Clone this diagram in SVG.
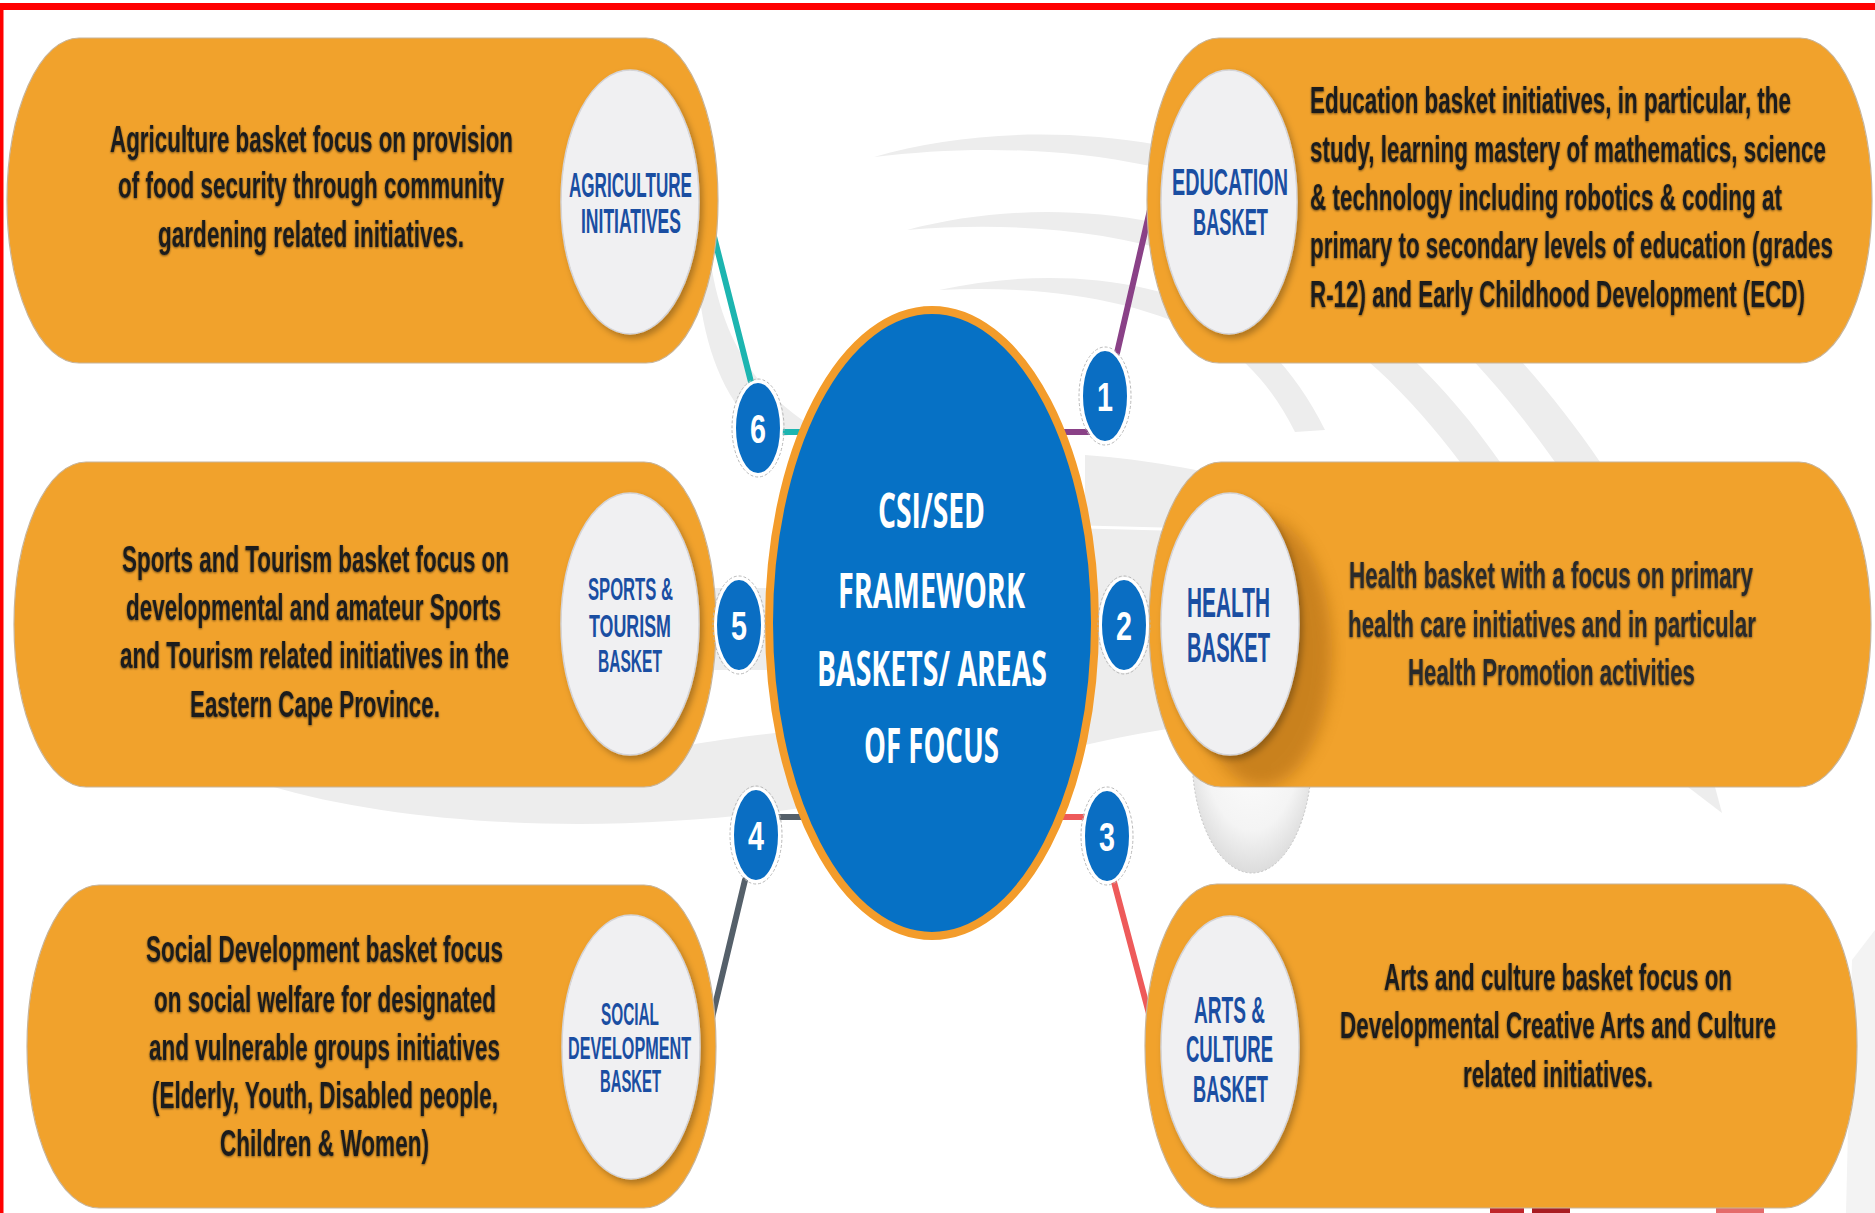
<svg xmlns="http://www.w3.org/2000/svg" width="1875" height="1213" viewBox="0 0 1875 1213">
<defs>
<style>
.pill{fill:#F1A22C;stroke:#C7B49A;stroke-width:1.2;}
.disc{fill:#F0F0F2;stroke:#D4D4D8;stroke-width:1.5;}
.body{font-family:"Liberation Sans",Arial,sans-serif;font-weight:bold;font-size:37px;fill:#1E1E1E;}
.lbl{font-family:"Liberation Sans",Arial,sans-serif;font-weight:bold;fill:#1A4EA2;}
.ctr{font-family:"Open Sans","Liberation Sans",sans-serif;font-weight:700;font-size:49px;fill:#FFFFFF;}
.num{font-family:"Liberation Sans",Arial,sans-serif;font-weight:bold;font-size:41px;fill:#FFFFFF;}
.nc{fill:#0A6EC3;stroke:#FFFFFF;stroke-width:3;}
.nco{fill:none;stroke:#B8B8B8;stroke-width:1;stroke-dasharray:3 2;}
.sw{fill:#EDEDED;}
.cn{fill:none;stroke-width:6;stroke-linecap:round;}
</style>
<filter id="discShadow" x="-20%" y="-20%" width="140%" height="140%">
<feDropShadow dx="3" dy="4" stdDeviation="3" flood-color="#000" flood-opacity="0.28"/>
</filter>
<filter id="txtShadow" x="-5%" y="-20%" width="110%" height="140%">
<feDropShadow dx="0" dy="1" stdDeviation="1.3" flood-color="#000" flood-opacity="0.55"/>
</filter>
<filter id="blur8"><feGaussianBlur stdDeviation="8"/></filter>
<radialGradient id="refl" cx="50%" cy="40%" r="60%">
<stop offset="0" stop-color="#FFFFFF"/>
<stop offset="0.7" stop-color="#F4F4F4"/>
<stop offset="1" stop-color="#DCDCDC"/>
</radialGradient>
<clipPath id="clipP4"><rect x="1149" y="462" width="722" height="325" rx="72" ry="162.5"/></clipPath>
</defs>

<rect x="0" y="0" width="1875" height="1213" fill="#FFFFFF"/>

<g id="background">
<path class="sw" d="M 874 157 C 1000 120 1180 125 1320 200 C 1440 265 1530 360 1600 462 L 1555 462 C 1490 370 1410 285 1305 225 C 1180 150 1010 140 874 157 Z"/>
<path class="sw" d="M 907 230 C 1020 200 1160 205 1280 265 C 1380 315 1450 390 1500 462 L 1460 462 C 1410 395 1350 335 1265 290 C 1160 232 1030 220 907 230 Z"/>
<path class="sw" d="M 939 290 C 1040 268 1150 275 1230 320 C 1270 345 1300 380 1325 430 L 1295 432 C 1275 392 1250 362 1215 340 C 1140 300 1050 285 939 290 Z"/>
<path class="sw" d="M 1085 455 C 1150 460 1200 470 1240 480 L 1240 720 C 1180 725 1130 735 1085 745 Z"/>
<path d="M 1085 527 L 1240 531" stroke="#FFFFFF" stroke-width="3"/>
<path class="sw" d="M 700 588 L 775 588 L 775 670 L 700 670 Z"/>
<path class="sw" d="M 270 786 C 420 830 650 838 860 798 L 860 726 C 790 730 730 738 690 745 L 640 786 Z"/>
<path class="sw" d="M 712 270 C 725 345 760 395 815 428 L 770 440 C 730 410 708 360 700 300 Z"/>
<path class="sw" d="M 1688 787 L 1715 787 L 1722 813 Z"/>
<path fill="#F3F3F3" d="M 1852 960 L 1875 930 L 1875 1213 L 1846 1213 Z"/>
<rect x="1490" y="1207" width="34" height="6" fill="#C0262B"/>
<rect x="1532" y="1207" width="38" height="6" fill="#A91D23"/>
<rect x="1716" y="1206" width="48" height="7" fill="#E46B6B"/>
<rect x="0" y="3" width="1875" height="7" fill="#FF0000"/>
<rect x="0" y="3" width="3.5" height="1210" fill="#FF0000"/>
</g>

<g id="connectors">
<path class="cn" stroke="#1CB5B0" d="M 706 205 L 751 382 M 770 432 L 806 432"/>
<path class="cn" stroke="#8A4187" d="M 1150 210 L 1117 353 M 1055 432 L 1095 432"/>
<path class="cn" stroke="#55606A" d="M 745 880 L 712 1018 M 770 817 L 810 817"/>
<path class="cn" stroke="#EE5A5A" d="M 1114 882 L 1152 1025 M 1055 817 L 1095 817"/>
</g>

<g id="node-agriculture">
<rect class="pill" x="7" y="38" width="711" height="325" rx="72" ry="162.5"/>
<ellipse class="disc" cx="630" cy="202" rx="69" ry="132" filter="url(#discShadow)"/>
<g class="body" filter="url(#txtShadow)">
<text transform="translate(110 152) scale(0.55 1)" textLength="732.7" lengthAdjust="spacingAndGlyphs">Agriculture basket focus on provision</text>
<text transform="translate(118 198) scale(0.55 1)" textLength="701.8" lengthAdjust="spacingAndGlyphs">of food security through community</text>
<text transform="translate(158 247) scale(0.55 1)" textLength="556.4" lengthAdjust="spacingAndGlyphs">gardening related initiatives.</text>
</g>
<g class="lbl" font-size="35">
<text transform="translate(569 197) scale(0.5 1)" textLength="246" lengthAdjust="spacingAndGlyphs">AGRICULTURE</text>
<text transform="translate(581 233) scale(0.5 1)" textLength="200" lengthAdjust="spacingAndGlyphs">INITIATIVES</text>
</g>
</g>

<g id="node-education">
<rect class="pill" x="1147" y="38" width="725" height="325" rx="72" ry="162.5"/>
<ellipse class="disc" cx="1229" cy="202" rx="68" ry="132" filter="url(#discShadow)"/>
<g class="body" filter="url(#txtShadow)">
<text transform="translate(1310 113) scale(0.55 1)" textLength="874.5" lengthAdjust="spacingAndGlyphs">Education basket initiatives, in particular, the</text>
<text transform="translate(1310 162) scale(0.55 1)" textLength="938.2" lengthAdjust="spacingAndGlyphs">study, learning mastery of mathematics, science</text>
<text transform="translate(1310 210) scale(0.55 1)" textLength="858.2" lengthAdjust="spacingAndGlyphs">&amp; technology including robotics &amp; coding at</text>
<text transform="translate(1310 258) scale(0.55 1)" textLength="950.9" lengthAdjust="spacingAndGlyphs">primary to secondary levels of education (grades</text>
<text transform="translate(1310 307) scale(0.55 1)" textLength="900" lengthAdjust="spacingAndGlyphs">R-12) and Early Childhood Development (ECD)</text>
</g>
<g class="lbl" font-size="37">
<text transform="translate(1172 195) scale(0.5 1)" textLength="232" lengthAdjust="spacingAndGlyphs">EDUCATION</text>
<text transform="translate(1193 235) scale(0.5 1)" textLength="150" lengthAdjust="spacingAndGlyphs">BASKET</text>
</g>
</g>

<g id="node-sports">
<rect class="pill" x="14" y="462" width="702" height="325" rx="72" ry="162.5"/>
<ellipse class="disc" cx="630" cy="624" rx="69" ry="131" filter="url(#discShadow)"/>
<g class="body" filter="url(#txtShadow)">
<text transform="translate(122 572) scale(0.55 1)" textLength="703.6" lengthAdjust="spacingAndGlyphs">Sports and Tourism basket focus on</text>
<text transform="translate(126 620) scale(0.55 1)" textLength="681.8" lengthAdjust="spacingAndGlyphs">developmental and amateur Sports</text>
<text transform="translate(120 668) scale(0.55 1)" textLength="707.3" lengthAdjust="spacingAndGlyphs">and Tourism related initiatives in the</text>
<text transform="translate(190 717) scale(0.55 1)" textLength="454.5" lengthAdjust="spacingAndGlyphs">Eastern Cape Province.</text>
</g>
<g class="lbl" font-size="32">
<text transform="translate(588 600) scale(0.5 1)" textLength="170" lengthAdjust="spacingAndGlyphs">SPORTS &amp;</text>
<text transform="translate(589 637) scale(0.5 1)" textLength="164" lengthAdjust="spacingAndGlyphs">TOURISM</text>
<text transform="translate(598 672) scale(0.5 1)" textLength="128" lengthAdjust="spacingAndGlyphs">BASKET</text>
</g>
</g>

<g id="node-health">
<ellipse cx="1252" cy="755" rx="60" ry="118" fill="url(#refl)" stroke="#C4C4C4" stroke-width="1" stroke-dasharray="2 2"/>
<rect class="pill" x="1149" y="462" width="722" height="325" rx="72" ry="162.5"/>
<g clip-path="url(#clipP4)">
<ellipse cx="1262" cy="652" rx="70" ry="135" fill="#9A5A0A" opacity="0.45" filter="url(#blur8)"/>
</g>
<ellipse class="disc" cx="1230" cy="624" rx="69" ry="131" filter="url(#discShadow)"/>
<g class="body" filter="url(#txtShadow)" style="fill:#2C2C2C">
<text transform="translate(1349 588) scale(0.55 1)" textLength="734.5" lengthAdjust="spacingAndGlyphs">Health basket with a focus on primary</text>
<text transform="translate(1348 637) scale(0.55 1)" textLength="741.8" lengthAdjust="spacingAndGlyphs">health care initiatives and in particular</text>
<text transform="translate(1408 685) scale(0.55 1)" textLength="521.8" lengthAdjust="spacingAndGlyphs">Health Promotion activities</text>
</g>
<g class="lbl" font-size="42">
<text transform="translate(1187 617) scale(0.5 1)" textLength="166" lengthAdjust="spacingAndGlyphs">HEALTH</text>
<text transform="translate(1187 662) scale(0.5 1)" textLength="166" lengthAdjust="spacingAndGlyphs">BASKET</text>
</g>
</g>

<g id="node-social">
<rect class="pill" x="27" y="885" width="689" height="323" rx="72" ry="161.5"/>
<ellipse class="disc" cx="631" cy="1047" rx="69" ry="132" filter="url(#discShadow)"/>
<g class="body" filter="url(#txtShadow)">
<text transform="translate(146 962) scale(0.55 1)" textLength="649.1" lengthAdjust="spacingAndGlyphs">Social Development basket focus</text>
<text transform="translate(154 1012) scale(0.55 1)" textLength="621.8" lengthAdjust="spacingAndGlyphs">on social welfare for designated</text>
<text transform="translate(149 1060) scale(0.55 1)" textLength="638.2" lengthAdjust="spacingAndGlyphs">and vulnerable groups initiatives</text>
<text transform="translate(152 1108) scale(0.55 1)" textLength="629.1" lengthAdjust="spacingAndGlyphs">(Elderly, Youth, Disabled people,</text>
<text transform="translate(220 1156) scale(0.55 1)" textLength="380" lengthAdjust="spacingAndGlyphs">Children &amp; Women)</text>
</g>
<g class="lbl" font-size="32">
<text transform="translate(601 1025) scale(0.5 1)" textLength="116" lengthAdjust="spacingAndGlyphs">SOCIAL</text>
<text transform="translate(568 1059) scale(0.5 1)" textLength="246" lengthAdjust="spacingAndGlyphs">DEVELOPMENT</text>
<text transform="translate(600 1092) scale(0.5 1)" textLength="122" lengthAdjust="spacingAndGlyphs">BASKET</text>
</g>
</g>

<g id="node-arts">
<rect class="pill" x="1145" y="884" width="712" height="324" rx="72" ry="162"/>
<ellipse class="disc" cx="1230" cy="1047" rx="69" ry="131" filter="url(#discShadow)"/>
<g class="body" filter="url(#txtShadow)">
<text transform="translate(1384 990) scale(0.55 1)" textLength="632.7" lengthAdjust="spacingAndGlyphs">Arts and culture basket focus on</text>
<text transform="translate(1340 1038) scale(0.55 1)" textLength="792.7" lengthAdjust="spacingAndGlyphs">Developmental Creative Arts and Culture</text>
<text transform="translate(1463 1087) scale(0.55 1)" textLength="345.5" lengthAdjust="spacingAndGlyphs">related initiatives.</text>
</g>
<g class="lbl" font-size="37">
<text transform="translate(1194 1023) scale(0.5 1)" textLength="142" lengthAdjust="spacingAndGlyphs">ARTS &amp;</text>
<text transform="translate(1186 1062) scale(0.5 1)" textLength="174" lengthAdjust="spacingAndGlyphs">CULTURE</text>
<text transform="translate(1193 1102) scale(0.5 1)" textLength="150" lengthAdjust="spacingAndGlyphs">BASKET</text>
</g>
</g>

<g id="node-center">
<ellipse cx="932" cy="623" rx="163" ry="313" fill="#0671C5" stroke="#F39C2B" stroke-width="8"/>
<text class="ctr" transform="translate(878 528) scale(0.6 1)" textLength="178.3" lengthAdjust="spacingAndGlyphs">CSI/SED</text>
<text class="ctr" transform="translate(838 608) scale(0.6 1)" textLength="311.7" lengthAdjust="spacingAndGlyphs">FRAMEWORK</text>
<text class="ctr" transform="translate(817 686) scale(0.6 1)" textLength="383.3" lengthAdjust="spacingAndGlyphs">BASKETS/ AREAS</text>
<text class="ctr" transform="translate(864 763) scale(0.6 1)" textLength="225" lengthAdjust="spacingAndGlyphs">OF FOCUS</text>
</g>

<g id="marker-1">
<ellipse class="nco" cx="1105" cy="396" rx="26" ry="49"/>
<ellipse class="nc" cx="1105" cy="396" rx="23.5" ry="46.5"/>
<text class="num" transform="translate(1097 411) scale(0.65 1)" textLength="24.6" lengthAdjust="spacingAndGlyphs">1</text>
</g>
<g id="marker-2">
<ellipse class="nco" cx="1124" cy="625" rx="26" ry="49"/>
<ellipse class="nc" cx="1124" cy="625" rx="23.5" ry="46.5"/>
<text class="num" transform="translate(1116 640) scale(0.65 1)" textLength="24.6" lengthAdjust="spacingAndGlyphs">2</text>
</g>
<g id="marker-3">
<ellipse class="nco" cx="1107" cy="836" rx="26" ry="49"/>
<ellipse class="nc" cx="1107" cy="836" rx="23.5" ry="46.5"/>
<text class="num" transform="translate(1099 851) scale(0.65 1)" textLength="24.6" lengthAdjust="spacingAndGlyphs">3</text>
</g>
<g id="marker-4">
<ellipse class="nco" cx="756" cy="835" rx="26" ry="49"/>
<ellipse class="nc" cx="756" cy="835" rx="23.5" ry="46.5"/>
<text class="num" transform="translate(748 850) scale(0.65 1)" textLength="24.6" lengthAdjust="spacingAndGlyphs">4</text>
</g>
<g id="marker-5">
<ellipse class="nco" cx="739" cy="625" rx="26" ry="49"/>
<ellipse class="nc" cx="739" cy="625" rx="23.5" ry="46.5"/>
<text class="num" transform="translate(731 640) scale(0.65 1)" textLength="24.6" lengthAdjust="spacingAndGlyphs">5</text>
</g>
<g id="marker-6">
<ellipse class="nco" cx="758" cy="428" rx="26" ry="49"/>
<ellipse class="nc" cx="758" cy="428" rx="23.5" ry="46.5"/>
<text class="num" transform="translate(750 443) scale(0.65 1)" textLength="24.6" lengthAdjust="spacingAndGlyphs">6</text>
</g>
</svg>
